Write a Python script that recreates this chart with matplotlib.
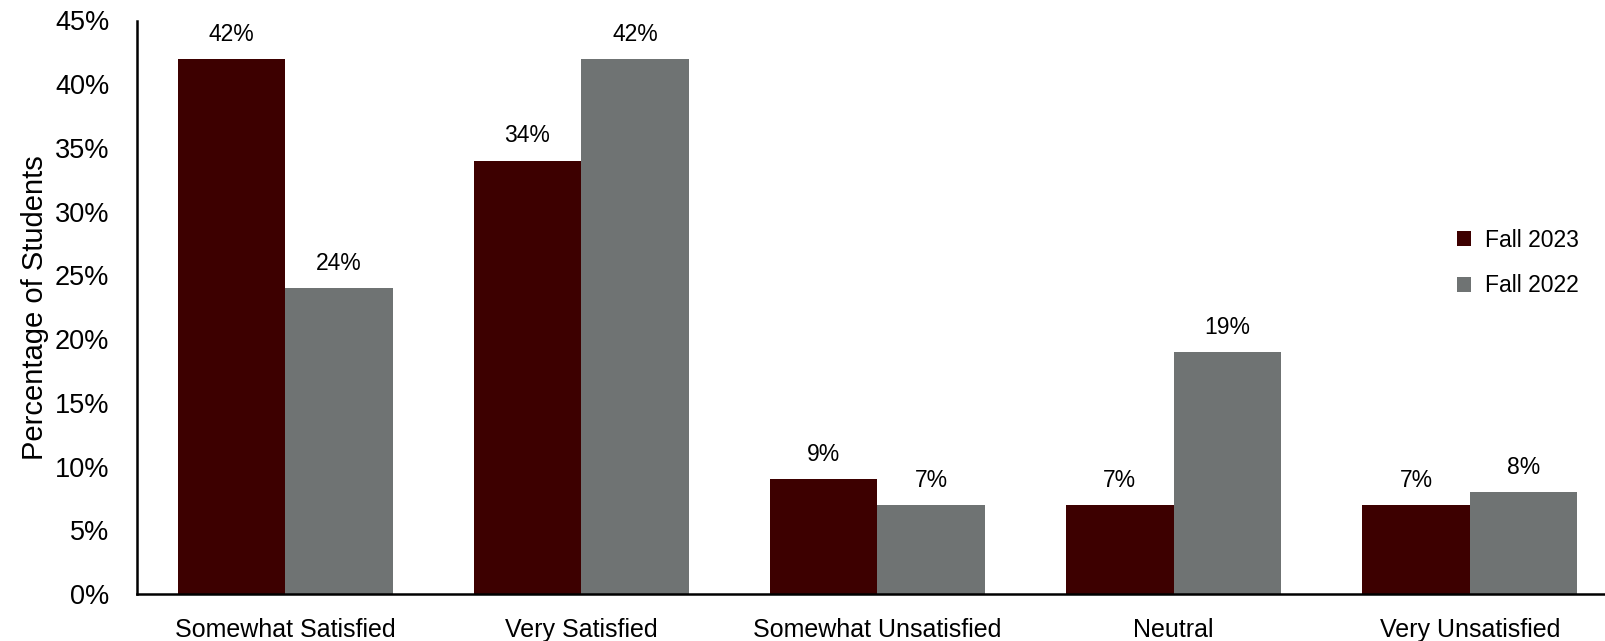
import matplotlib
matplotlib.use("Agg")
import matplotlib.pyplot as plt
import numpy as np
from matplotlib.ticker import FuncFormatter

categories = ["Somewhat Satisfied", "Very Satisfied", "Somewhat Unsatisfied", "Neutral", "Very Unsatisfied"]
fall_2023 = [42, 34, 9, 7, 7]
fall_2022 = [24, 42, 7, 19, 8]
series_names = ["Fall 2023", "Fall 2022"]
y_ticks = [0, 5, 10, 15, 20, 25, 30, 35, 40, 45]

c2023 = "#3D0000"
c2022 = "#6F7373"

plt.rcParams['font.family'] = ['Liberation Sans', 'DejaVu Sans']

fig = plt.figure(figsize=(16.06, 6.41), dpi=100)
ax = fig.add_axes([137/1606, 1 - 594/641, 1 - 137/1606, (594 - 20.5)/641])

x = np.arange(len(categories))
w = 0.363
b1 = ax.bar(x - w/2, fall_2023, width=w, color=c2023, label=series_names[0])
b2 = ax.bar(x + w/2, fall_2022, width=w, color=c2022, label=series_names[1])

for bars, vals in ((b1, fall_2023), (b2, fall_2022)):
    for r, v in zip(bars, vals):
        ax.annotate(f"{v}%", (r.get_x() + r.get_width()/2, v), xytext=(0, 9.5),
                    textcoords="offset points", ha="center", va="bottom", fontsize=16.5)

ax.set_xlim(-0.5, 4.46)
ax.set_ylim(0, 45)
ax.set_yticks(y_ticks)
ax.yaxis.set_major_formatter(FuncFormatter(lambda v, p: f"{int(v)}%"))
ax.set_xticks(x)
ax.set_xticklabels(categories, fontsize=18)
ax.tick_params(axis='y', labelsize=19.5, length=0, pad=20)
ax.tick_params(axis='x', length=0, pad=17)
ax.set_ylabel("Percentage of Students", fontsize=21, labelpad=4)

for s in ("top", "right"):
    ax.spines[s].set_visible(False)
for s in ("left", "bottom"):
    ax.spines[s].set_linewidth(1.8)
    ax.spines[s].set_color("black")

ax.legend(loc="center left", bbox_to_anchor=(1436/1606, 1 - 263/641), bbox_transform=fig.transFigure,
          frameon=False, fontsize=16.5, handlelength=0.62, handleheight=0.62,
          handletextpad=0.6, labelspacing=1.0)

fig.savefig("out.png", dpi=100)
